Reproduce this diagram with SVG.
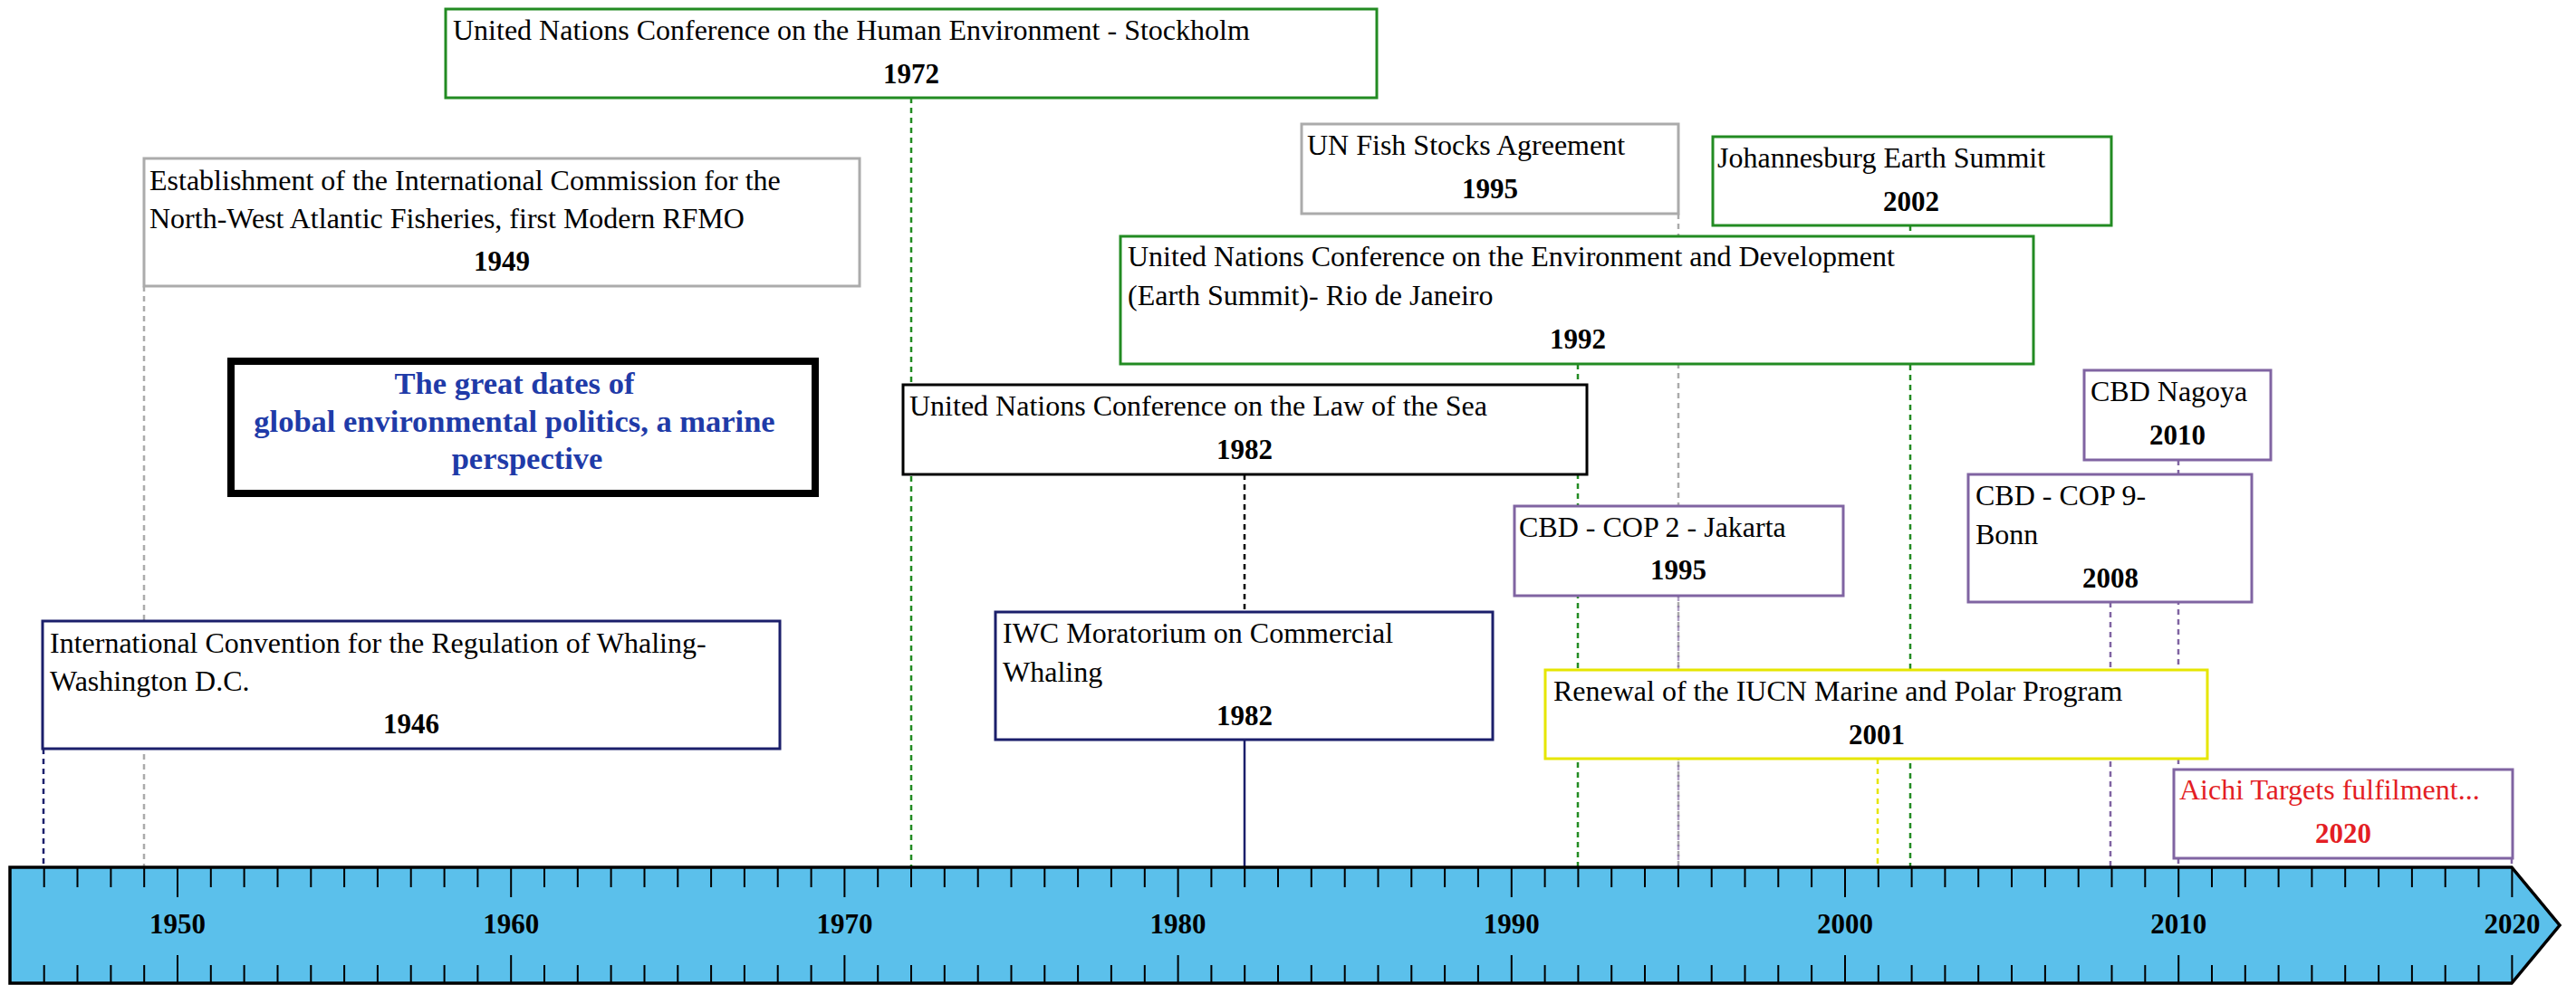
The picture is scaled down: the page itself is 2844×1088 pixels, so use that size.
<svg xmlns="http://www.w3.org/2000/svg" width="2844" height="1088" viewBox="0 0 2844 1088">
<style>
.box{fill:#ffffff;stroke-width:3}
.t{font-family:"Liberation Serif","Times New Roman",serif;font-size:32px;fill:#000}
.y{font-family:"Liberation Serif","Times New Roman",serif;font-size:31px;font-weight:bold;fill:#000;text-anchor:middle}
.lab{font-family:"Liberation Serif","Times New Roman",serif;font-size:31px;font-weight:bold;fill:#000;text-anchor:middle}
.ttl{font-family:"Liberation Serif","Times New Roman",serif;font-size:34.5px;font-weight:bold;fill:#1F3BA8;text-anchor:middle}
.c{stroke-width:2.5;fill:none;stroke-dasharray:6 5}
.navy{stroke:#1B1F6B}.gray{stroke:#ABABAB}.green{stroke:#228B22}.purple{stroke:#8064A2}.yellow{stroke:#E6E600}.black{stroke:#000}
.tick{stroke:#000;stroke-width:2}
</style>
<rect x="0" y="0" width="2844" height="1088" fill="#ffffff"/>
<g id="connectors">
<line class="c navy" x1="48" y1="827" x2="48" y2="958"/>
<line class="c gray" x1="159" y1="316" x2="159" y2="958"/>
<line class="c green" x1="1006" y1="108" x2="1006" y2="958"/>
<line class="c black" x1="1374" y1="524" x2="1374" y2="676"/>
<line x1="1374" y1="817" x2="1374" y2="958" stroke="#1B1F6B" stroke-width="2.5"/>
<line class="c green" x1="1742" y1="402" x2="1742" y2="958"/>
<line class="c gray" x1="1853" y1="236" x2="1853" y2="958"/>
<line class="c purple" x1="1853" y1="658" x2="1853" y2="958" stroke-opacity="0.6"/>
<line class="c yellow" x1="2073" y1="838" x2="2073" y2="958"/>
<line class="c green" x1="2109" y1="249" x2="2109" y2="958"/>
<line class="c purple" x1="2330" y1="665" x2="2330" y2="958"/>
<line class="c purple" x1="2405" y1="508" x2="2405" y2="958"/>
<line class="c purple" x1="2773" y1="948" x2="2773" y2="958"/>
</g>
<g id="n1972">
<rect class="box green" x="492" y="10" width="1028" height="98"/>
<text class="t" x="500" y="44">United Nations Conference on the Human Environment - Stockholm</text>
<text class="y" x="1006" y="92">1972</text>
</g>
<g id="n1949">
<rect class="box gray" x="159" y="175" width="790" height="141"/>
<text class="t" x="165" y="210">Establishment of the International Commission for the</text>
<text class="t" x="165" y="252">North-West Atlantic Fisheries, first Modern RFMO</text>
<text class="y" x="554" y="299">1949</text>
</g>
<g id="title">
<rect x="255" y="399" width="645" height="146" fill="#ffffff" stroke="#000" stroke-width="8"/>
<text class="ttl" x="568" y="435">The great dates of</text>
<text class="ttl" x="568" y="477">global environmental politics, a marine</text>
<text class="ttl" x="582" y="518">perspective</text>
</g>
<g id="n1946">
<rect class="box navy" x="47" y="686" width="814" height="141"/>
<text class="t" x="55" y="721">International Convention for the Regulation of Whaling-</text>
<text class="t" x="55" y="763">Washington D.C.</text>
<text class="y" x="454" y="810">1946</text>
</g>
<g id="n1982law">
<rect class="box black" x="997" y="425" width="755" height="99"/>
<text class="t" x="1004" y="459">United Nations Conference on the Law of the Sea</text>
<text class="y" x="1374" y="507">1982</text>
</g>
<g id="n1982iwc">
<rect class="box navy" x="1099" y="676" width="549" height="141"/>
<text class="t" x="1107" y="710">IWC Moratorium on Commercial</text>
<text class="t" x="1107" y="753">Whaling</text>
<text class="y" x="1374" y="801">1982</text>
</g>
<g id="n1995fish">
<rect class="box gray" x="1437" y="137" width="416" height="99"/>
<text class="t" x="1443" y="171">UN Fish Stocks Agreement</text>
<text class="y" x="1645" y="219">1995</text>
</g>
<g id="n2002">
<rect class="box green" x="1891" y="151" width="440" height="98"/>
<text class="t" x="1896" y="185">Johannesburg Earth Summit</text>
<text class="y" x="2110" y="233">2002</text>
</g>
<g id="n1992">
<rect class="box green" x="1237" y="261" width="1008" height="141"/>
<text class="t" x="1245" y="294">United Nations Conference on the Environment and Development</text>
<text class="t" x="1245" y="337">(Earth Summit)- Rio de Janeiro</text>
<text class="y" x="1742" y="385">1992</text>
</g>
<g id="n1995cop2">
<rect class="box purple" x="1672" y="559" width="363" height="99"/>
<text class="t" x="1677" y="593">CBD - COP 2 - Jakarta</text>
<text class="y" x="1853" y="640">1995</text>
</g>
<g id="n2001">
<rect class="box yellow" x="1706" y="740" width="731" height="98"/>
<text class="t" x="1715" y="774">Renewal of the IUCN Marine and Polar Program</text>
<text class="y" x="2072" y="822">2001</text>
</g>
<g id="n2010">
<rect class="box purple" x="2301" y="409" width="206" height="99"/>
<text class="t" x="2308" y="443">CBD Nagoya</text>
<text class="y" x="2404" y="491">2010</text>
</g>
<g id="n2008">
<rect class="box purple" x="2173" y="524" width="313" height="141"/>
<text class="t" x="2181" y="558">CBD - COP 9-</text>
<text class="t" x="2181" y="601">Bonn</text>
<text class="y" x="2330" y="649">2008</text>
</g>
<g id="n2020">
<rect class="box purple" x="2400" y="850" width="374" height="98"/>
<text class="t" x="2406" y="883" fill="#E31E24" style="fill:#E31E24">Aichi Targets fulfilment...</text>
<text class="y" x="2587" y="931" style="fill:#E31E24">2020</text>
</g>
<g id="timeline">
<polygon points="11,958 2773,958 2826,1022 2773,1086 11,1086" fill="#5BC0EB" stroke="#000" stroke-width="3.5"/>
<g id="ticks">
<path class="tick" d="M48.7,958v22M85.5,958v22M122.4,958v22M159.2,958v22M232.8,958v22M269.6,958v22M306.5,958v22M343.3,958v22M380.1,958v22M416.9,958v22M453.7,958v22M490.6,958v22M527.4,958v22M601,958v22M637.8,958v22M674.6,958v22M711.5,958v22M748.3,958v22M785.1,958v22M821.9,958v22M858.7,958v22M895.6,958v22M969.2,958v22M1006,958v22M1042.8,958v22M1079.7,958v22M1116.5,958v22M1153.3,958v22M1190.1,958v22M1226.9,958v22M1263.8,958v22M1337.4,958v22M1374.2,958v22M1411,958v22M1447.8,958v22M1484.7,958v22M1521.5,958v22M1558.3,958v22M1595.1,958v22M1631.9,958v22M1705.6,958v22M1742.4,958v22M1779.2,958v22M1816,958v22M1852.9,958v22M1889.7,958v22M1926.5,958v22M1963.3,958v22M2000.1,958v22M2073.8,958v22M2110.6,958v22M2147.4,958v22M2184.2,958v22M2221,958v22M2257.9,958v22M2294.7,958v22M2331.5,958v22M2368.3,958v22M2442,958v22M2478.8,958v22M2515.6,958v22M2552.4,958v22M2589.2,958v22M2626.1,958v22M2662.9,958v22M2699.7,958v22M2736.5,958v22"/>
<path class="tick" d="M48.7,1066v20M85.5,1066v20M122.4,1066v20M159.2,1066v20M232.8,1066v20M269.6,1066v20M306.5,1066v20M343.3,1066v20M380.1,1066v20M416.9,1066v20M453.7,1066v20M490.6,1066v20M527.4,1066v20M601,1066v20M637.8,1066v20M674.6,1066v20M711.5,1066v20M748.3,1066v20M785.1,1066v20M821.9,1066v20M858.7,1066v20M895.6,1066v20M969.2,1066v20M1006,1066v20M1042.8,1066v20M1079.7,1066v20M1116.5,1066v20M1153.3,1066v20M1190.1,1066v20M1226.9,1066v20M1263.8,1066v20M1337.4,1066v20M1374.2,1066v20M1411,1066v20M1447.8,1066v20M1484.7,1066v20M1521.5,1066v20M1558.3,1066v20M1595.1,1066v20M1631.9,1066v20M1705.6,1066v20M1742.4,1066v20M1779.2,1066v20M1816,1066v20M1852.9,1066v20M1889.7,1066v20M1926.5,1066v20M1963.3,1066v20M2000.1,1066v20M2073.8,1066v20M2110.6,1066v20M2147.4,1066v20M2184.2,1066v20M2221,1066v20M2257.9,1066v20M2294.7,1066v20M2331.5,1066v20M2368.3,1066v20M2442,1066v20M2478.8,1066v20M2515.6,1066v20M2552.4,1066v20M2589.2,1066v20M2626.1,1066v20M2662.9,1066v20M2699.7,1066v20M2736.5,1066v20"/>
<path class="tick" d="M196,958v33M564.2,958v33M932.4,958v33M1300.6,958v33M1668.8,958v33M2037,958v33M2405.2,958v33M2773.4,958v33M196,1055v31M564.2,1055v31M932.4,1055v31M1300.6,1055v31M1668.8,1055v31M2037,1055v31M2405.2,1055v31M2773.4,1055v31"/>
</g>
<text class="lab" x="196" y="1031">1950</text>
<text class="lab" x="564.2" y="1031">1960</text>
<text class="lab" x="932.4" y="1031">1970</text>
<text class="lab" x="1300.6" y="1031">1980</text>
<text class="lab" x="1668.8" y="1031">1990</text>
<text class="lab" x="2037" y="1031">2000</text>
<text class="lab" x="2405.2" y="1031">2010</text>
<text class="lab" x="2773.4" y="1031">2020</text>
</g>
</svg>
